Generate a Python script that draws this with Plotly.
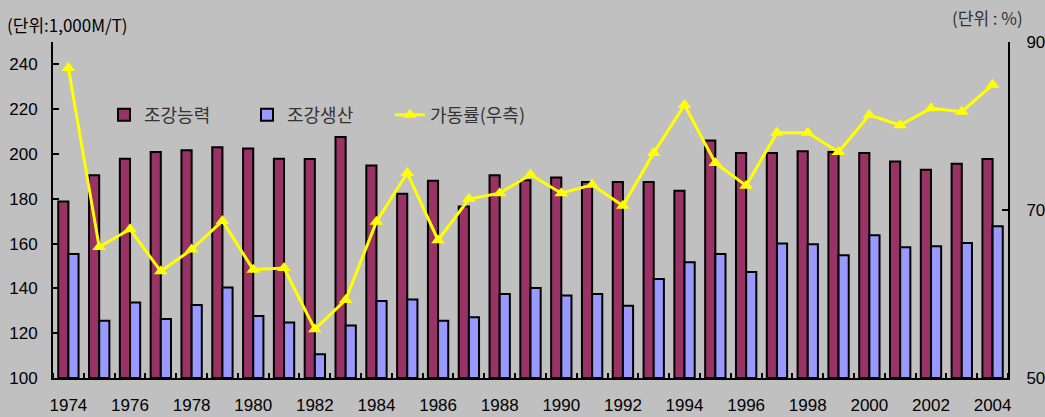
import plotly.graph_objects as go

years = list(range(1974, 2005))
capacity = [178.8, 190.5, 197.9, 200.9, 201.7, 203.0, 202.4, 197.9, 197.8, 207.6,
            194.9, 182.2, 188.1, 176.6, 190.5, 188.3, 189.5, 187.5, 187.5, 187.5,
            183.6, 206.0, 200.5, 200.5, 201.2, 200.9, 200.5, 196.7, 193.0, 195.6, 197.8]
production = [155.4, 125.6, 133.7, 126.3, 132.6, 140.4, 127.7, 124.8, 110.6, 123.4,
              134.4, 135.1, 125.6, 127.1, 137.5, 140.2, 136.8, 137.5, 132.3, 144.2,
              151.7, 155.4, 147.3, 160.0, 159.7, 154.8, 163.7, 158.4, 158.8, 160.3, 167.8]
rate = [86.9, 65.6, 67.7, 62.7, 65.3, 68.7, 62.9, 63.1, 55.8, 59.3,
        68.6, 74.4, 66.4, 71.3, 72.0, 74.2, 72.0, 73.0, 70.5, 76.8,
        82.5, 75.6, 72.9, 79.2, 79.2, 76.9, 81.3, 80.1, 82.1, 81.7, 84.9]
x_labels = [str(y) for y in range(1974, 2005, 2)]

BG = "#c0c0c0"
num_font = dict(family="Liberation Sans, Arial", size=17, color="#000000")
kr_font = dict(family="Noto Sans CJK KR", size=18, color="#333333")

W, H = 1045, 417
pl, pr, pt, pb = 53, 37, 42, 39
pw, ph = W - pl - pr, H - pt - pb

fig = go.Figure()
fig.add_trace(go.Bar(x=years, y=[v - 100 for v in capacity], base=100, name="조강능력",
                     marker=dict(color="#993366", line=dict(color="#000000", width=2))))
fig.add_trace(go.Bar(x=years, y=[v - 100 for v in production], base=100, name="조강생산",
                     marker=dict(color="#9999ff", line=dict(color="#000000", width=2))))
fig.add_trace(go.Scatter(x=years, y=rate, name="가동률(우측)", yaxis="y2",
                         mode="lines+markers",
                         line=dict(color="#ffff00", width=3),
                         marker=dict(symbol="triangle-up", size=12, color="#ffff00")))

fig.update_layout(
    width=W, height=H,
    paper_bgcolor=BG, plot_bgcolor=BG,
    margin=dict(l=pl, r=pr, t=pt, b=pb),
    barmode="group", bargap=0.34, bargroupgap=0,
    showlegend=True,
    legend=dict(orientation="h", x=(104 - pl) / pw, y=(H - pb - 115) / ph,
                xanchor="left", yanchor="middle",
                entrywidth=98, entrywidthmode="pixels",
                bgcolor="rgba(0,0,0,0)", font=kr_font),
    xaxis=dict(range=[1973.5, 2004.5], tickmode="array", automargin=False,
               tickvals=[int(s) for s in x_labels], ticktext=x_labels,
               ticks="", showgrid=False, zeroline=False,
               showline=True, linecolor="#000000", linewidth=2,
               tickfont=num_font, ticklabelstandoff=11,
               minor=dict(tickmode="array", tickvals=[1973.5 + i for i in range(32)],
                          ticks="inside", ticklen=5, tickcolor="#000000", tickwidth=2,
                          showgrid=False)),
    yaxis=dict(range=[100, 250], tickvals=[100, 120, 140, 160, 180, 200, 220, 240],
               automargin=False, ticklabelstandoff=10,
               ticks="inside", ticklen=6, tickcolor="#000000", tickwidth=2,
               showgrid=False, zeroline=False,
               showline=True, linecolor="#000000", linewidth=2,
               tickfont=num_font),
    yaxis2=dict(range=[50, 90], tickvals=[50, 70, 90], overlaying="y", side="right",
                automargin=False, ticklabelstandoff=13,
                ticks="inside", ticklen=6, tickcolor="#000000", tickwidth=2,
                showgrid=False, zeroline=False,
                showline=True, linecolor="#000000", linewidth=2,
                tickfont=num_font),
    annotations=[
        dict(text="(단위:1,000M/T)", x=(5 - pl) / pw, y=(H - pb - 25) / ph,
             xref="paper", yref="paper", showarrow=False,
             xanchor="left", yanchor="middle",
             font=dict(family="Noto Sans CJK KR", size=17, color="#000000")),
        dict(text="(단위 : %)", x=(1025 - pl) / pw, y=(H - pb - 17) / ph,
             xref="paper", yref="paper", showarrow=False,
             xanchor="right", yanchor="middle",
             font=dict(family="Noto Sans CJK KR", size=17, color="#333333")),
    ],
)
fig.write_html("out.html", config={"displayModeBar": False},
               post_script="document.body.style.margin='0';document.body.style.background='#c0c0c0';")
